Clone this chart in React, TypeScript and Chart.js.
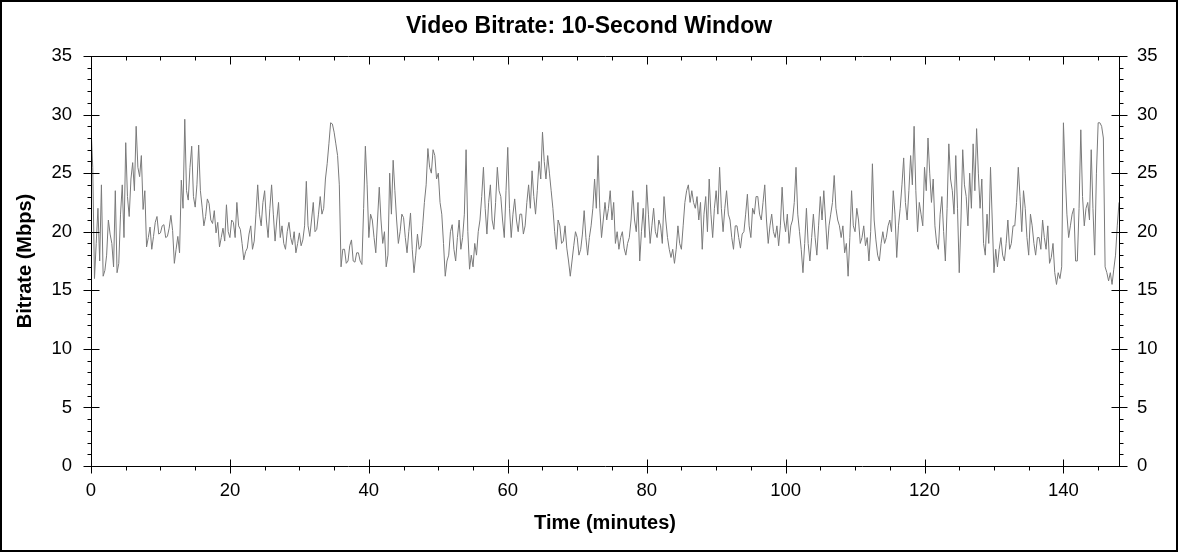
import React, { useEffect, useRef } from "react";
import { Chart, registerables } from "chart.js";

Chart.register(...registerables);

const TITLE = "Video Bitrate: 10-Second Window";
const X_LABEL = "Time (minutes)";
const Y_LABEL = "Bitrate (Mbps)";
const FONT = '"Liberation Sans", Arial, sans-serif';

const SAMPLE_STEP_MINUTES = 0.25;
const X_MIN = 0;
const X_MAX = 148;
const X_MAJOR_STEP = 20;
const X_MINOR_STEP = 5;
const Y_MIN = 0;
const Y_MAX = 35;
const Y_MAJOR_STEP = 5;
const Y_MINOR_STEP = 1;

// Bitrate (Mbps) every 0.25 minute (one row per minute)
const BITRATE_MBPS = [
  29, 25.5, 16, 19,
  22, 17.5, 24, 16.2,
  16.7, 18, 21, 19.8,
  19, 17, 23.5, 16.5,
  17.3, 21.5, 24, 19.5,
  27.6, 23, 21.3, 24.5,
  25.9, 23.5, 29, 25.5,
  24.7, 26.5, 21.9, 23.5,
  18.7, 19.5, 20.4, 18.5,
  19.6, 20.8, 21.3, 19.8,
  19.9, 20.5, 20.6, 19.5,
  19.6, 20.3, 21.4, 20.1,
  17.3, 18.5, 19.6, 18.2,
  24.4, 22, 29.6, 23.5,
  22.7, 25.5, 27.3, 23,
  22.1, 24, 27.4, 23.5,
  22.1, 20.5, 21.3, 22.8,
  22.4, 21, 20.7, 21.8,
  19.9, 20.8, 18.7, 19.5,
  20.3, 19.2, 22.3, 20,
  19.5, 21, 20.8, 19.5,
  22.5, 20.5, 20.2, 19,
  17.6, 18.3, 18.6, 19.8,
  20.5, 18.5, 19.2, 21.5,
  24, 21.5, 20.5, 22.5,
  23.5, 21, 19.5, 22,
  24, 21.5, 19.2, 21,
  22.5, 19.5, 20.5, 19,
  18.5, 20, 20.8, 19.5,
  18.9, 20, 18.2, 19,
  19.9, 18.8, 19.3, 20.5,
  24.3, 20.5, 19.6, 21,
  22.5, 20, 20.2, 21.5,
  23, 21.5, 22, 24.5,
  25.8, 27.5, 29.3, 29.2,
  28.5, 27.5, 26.5, 24,
  17, 18.5, 18.5, 17.3,
  17.5, 18.8, 19.3, 17.5,
  17.4, 18.2, 18.2, 17.5,
  17.2, 22, 27.3, 24,
  19.5, 21.5, 21, 19.5,
  18.2, 21, 23.8, 21,
  19, 20, 17, 18,
  25, 21.5, 26.1, 23.5,
  21, 19, 20, 21.5,
  21.2, 19.5, 18.2, 20,
  21.6, 18.5, 16.5, 18,
  19.8, 18.5, 18.8, 20.5,
  22.5, 24, 27.1, 25.5,
  25, 27, 26.5, 24.5,
  25, 22.5, 21.5, 19,
  16.2, 17.5, 18, 20,
  20.6, 18.5, 17.5, 19.5,
  21, 18.5, 19.5, 21.5,
  27, 20, 16.8, 18,
  17, 19, 18, 20,
  21, 23, 25.5, 22,
  19.8, 22.5, 24, 21,
  20.2, 22.5, 25.5, 23.5,
  23, 21, 19.5, 23.5,
  27.2, 22, 19.5, 21.5,
  22.8, 21, 20, 21.5,
  21.5, 19.8, 20.5, 22.5,
  24, 22, 25.2, 23,
  21.5, 23.5, 26, 24.5,
  28.5, 26, 24.5, 26.5,
  25, 23.5, 22, 20,
  18.5, 21, 20.5, 19,
  19.2, 20.5, 18.6, 17.5,
  16.2, 17.5, 18.8, 20,
  19.5, 18, 18.5, 19.8,
  21.8, 19.5, 18, 19.5,
  20.5, 22, 24.5, 22,
  26.5, 22, 19.5, 21,
  22.5, 21, 22, 23.5,
  21, 22.5, 19, 20,
  18.5, 19.5, 20, 18.6,
  18, 19, 19.5, 21,
  23.5, 21, 20, 22.5,
  17.5, 20, 22, 19.5,
  24, 21.5, 19, 20.5,
  22, 20, 19.5, 21,
  20.5, 19, 23, 21,
  19.5, 18.5, 17.8, 18.5,
  17.3, 18.5, 20.5, 19,
  18.5, 20.5, 22.5, 23.5,
  24, 22.5, 23.5, 22.5,
  22, 23, 21, 22.5,
  18.5, 21.5, 23, 20,
  24.5, 21.5, 19.5, 22,
  23.5, 21.5, 25.5, 22,
  20, 22, 23.5, 21.5,
  21, 19.5, 18.5, 20.5,
  20.5, 19.5, 18.6, 19.8,
  20, 21.5, 23.2, 20.5,
  19.5, 22, 21.5, 23,
  23, 21.5, 21, 22.5,
  24, 21, 19, 20.5,
  21.5, 20, 19.5, 20.5,
  18.8, 20.5, 23.8, 21,
  20, 21.5, 19, 20.5,
  21, 22.5, 25.5, 21.5,
  20, 18.5, 16.5, 19,
  22, 19, 17.5, 19.5,
  21.5, 19.5, 18, 20.5,
  23, 21, 23.5, 21,
  18.5, 20.5, 21.5, 22.5,
  24.8, 22, 21, 20.5,
  19.5, 20.5, 18.2, 19,
  16.2, 19.5, 23.5, 20.5,
  20, 22, 21, 19,
  19.5, 20.5, 18.8, 19.5,
  17.5, 20, 25.8, 21,
  19.3, 18, 17.5, 19,
  20, 19, 19.5, 20.5,
  21, 20, 23.5, 21.5,
  17.8, 20.5, 22, 24,
  26.3, 22.5, 21, 23.5,
  26.5, 24, 29, 23.5,
  20, 22.5, 21.5, 20.5,
  25.5, 23.5, 28, 25,
  22.5, 24.5, 20.5, 19,
  18.5, 21.5, 23, 20,
  17.5, 22, 27.5, 24.5,
  23.5, 21.5, 26.5, 22,
  16.5, 21, 27, 24,
  23, 20.5, 25, 22,
  27.5, 23.5, 28.8, 25,
  22, 24.5, 19, 18,
  21.5, 19, 25.5, 21,
  16.5, 18.5, 17, 18.5,
  19.5, 18, 17.5, 19,
  21, 18.5, 19, 20.5,
  20.5, 22.5, 25.5, 23,
  20, 23.5, 22, 19.5,
  18, 21.5, 20.5, 19,
  18, 19.5, 19.5, 18.5,
  21, 19.5, 18.5, 20.5,
  17.3, 17.8, 19, 16.5,
  15.5, 16.5, 16, 17,
  29.3, 25, 21.5, 19.5,
  20.5, 21.5, 22, 17.5,
  17.5, 22, 28.7, 23,
  20.5, 22, 22.5, 21,
  27, 22, 18, 25,
  29.3, 29.3, 29, 28,
  17, 16.5, 15.8, 16.5,
  15.5, 16.8, 18, 20.5,
  22.5,
];

export default function App() {
  const ref = useRef<HTMLCanvasElement>(null);

  useEffect(() => {
    document.body.style.margin = "0";
    const canvas = ref.current;
    if (!canvas) return;

    const points = BITRATE_MBPS.map((v, i) => ({ x: i * SAMPLE_STEP_MINUTES, y: v }));

    const framePlugin = {
      id: "frameAndTicks",
      afterDraw(chart: any) {
        const ctx = chart.ctx;
        const { left, right, top, bottom } = chart.chartArea;
        const xs = chart.scales.x;
        const ys = chart.scales.y;
        const L = Math.round(left) + 0.5;
        const R = Math.round(right) + 0.5;
        const T = Math.round(top) + 0.5;
        const B = Math.round(bottom) + 0.5;
        ctx.save();
        ctx.strokeStyle = "#000";
        ctx.lineWidth = 1;
        ctx.beginPath();
        ctx.moveTo(L, T);
        ctx.lineTo(R, T);
        ctx.lineTo(R, B);
        ctx.lineTo(L, B);
        ctx.closePath();
        for (let v = Y_MIN; v <= Y_MAX; v += Y_MINOR_STEP) {
          const py = Math.round(ys.getPixelForValue(v)) + 0.5;
          if (v % Y_MAJOR_STEP === 0) {
            ctx.moveTo(L - 8, py);
            ctx.lineTo(L + 8, py);
            ctx.moveTo(R - 8, py);
            ctx.lineTo(R + 8, py);
          } else {
            ctx.moveTo(L - 4, py);
            ctx.lineTo(L, py);
            ctx.moveTo(R, py);
            ctx.lineTo(R + 4, py);
          }
        }
        for (let v = X_MIN; v <= X_MAX; v += X_MINOR_STEP) {
          const px = Math.round(xs.getPixelForValue(v)) + 0.5;
          if (v % X_MAJOR_STEP === 0) {
            ctx.moveTo(px, B - 7);
            ctx.lineTo(px, B + 7);
            ctx.moveTo(px, T);
            ctx.lineTo(px, T + 8);
          } else {
            ctx.moveTo(px, B);
            ctx.lineTo(px, B + 4);
            ctx.moveTo(px, T);
            ctx.lineTo(px, T + 4);
          }
        }
        ctx.stroke();
        ctx.lineWidth = 2;
        ctx.strokeRect(1, 1, chart.width - 2, chart.height - 2);
        ctx.restore();
      },
    };

    const tickFont = { family: FONT, size: 18.5 };
    const titleFont = { family: FONT, size: 20, weight: "bold" as const };

    const chart = new Chart(canvas, {
      type: "line",
      data: {
        datasets: [
          {
            data: points,
            borderColor: "#7a7a7a",
            borderWidth: 1,
            pointRadius: 0,
            tension: 0,
            fill: false,
          },
        ],
      },
      options: {
        animation: false,
        responsive: false,
        maintainAspectRatio: false,
        layout: { padding: 0 },
        plugins: {
          legend: { display: false },
          tooltip: { enabled: false },
          title: {
            display: true,
            text: TITLE,
            color: "#000",
            font: { family: FONT, size: 23, weight: "bold" },
            padding: { top: 13.2, bottom: 15.2 },
          },
        },
        scales: {
          x: {
            type: "linear",
            position: "bottom",
            min: X_MIN,
            max: X_MAX,
            grid: { display: false, drawTicks: false },
            border: { display: false },
            ticks: {
              stepSize: X_MAJOR_STEP,
              includeBounds: false,
              autoSkip: false,
              maxRotation: 0,
              padding: 14,
              color: "#000",
              font: tickFont,
              callback: (v: any) => (Number(v) % X_MAJOR_STEP === 0 ? String(v) : ""),
            },
            title: {
              display: true,
              text: X_LABEL,
              color: "#000",
              font: titleFont,
              padding: { top: 0, bottom: 17 },
            },
            afterFit: (s: any) => {
              s.height = 86;
            },
          },
          y: {
            position: "left",
            min: Y_MIN,
            max: Y_MAX,
            grid: { display: false, drawTicks: false },
            border: { display: false },
            ticks: { stepSize: Y_MAJOR_STEP, padding: 19, color: "#000", font: tickFont },
            title: {
              display: true,
              text: Y_LABEL,
              color: "#000",
              font: titleFont,
              padding: { top: 13, bottom: 0 },
            },
            afterFit: (s: any) => {
              s.width = 91;
            },
          },
          y2: {
            position: "right",
            min: Y_MIN,
            max: Y_MAX,
            grid: { display: false, drawTicks: false },
            border: { display: false },
            ticks: { stepSize: Y_MAJOR_STEP, padding: 18, color: "#000", font: tickFont },
            afterFit: (s: any) => {
              s.width = 59;
            },
          },
        },
      },
      plugins: [framePlugin],
    });

    return () => chart.destroy();
  }, []);

  return <canvas ref={ref} width={1178} height={552} style={{ display: "block" }} />;
}
